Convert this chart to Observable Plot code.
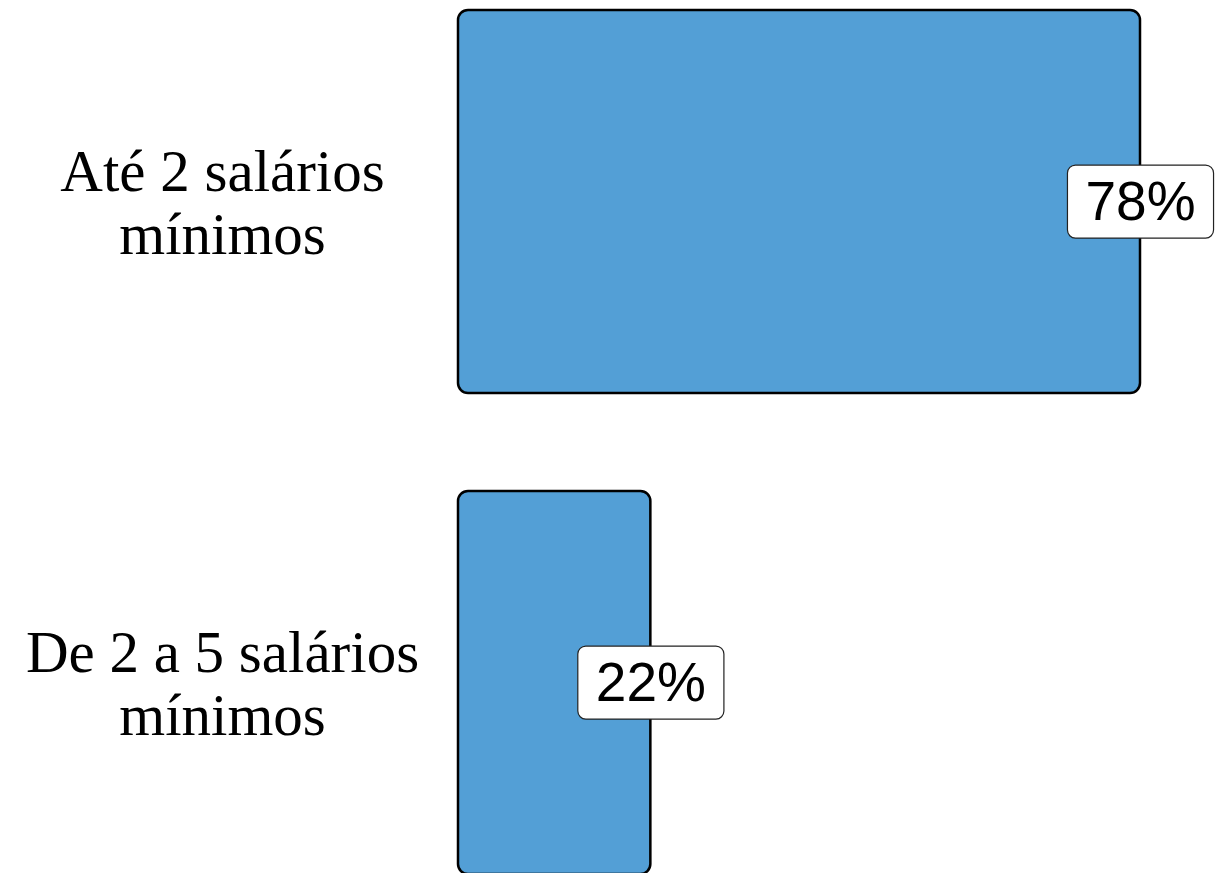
<!DOCTYPE html>
<html><head><meta charset="utf-8">
<script src="https://cdn.jsdelivr.net/npm/d3@7"></script>
<script src="https://cdn.jsdelivr.net/npm/@observablehq/plot@0.6"></script>
<style>body{margin:0;background:#fff;overflow:hidden}</style>
</head><body><div id="chart"></div>
<script>
const categories = ["Até 2 salários\nmínimos", "De 2 a 5 salários\nmínimos"];
const values = [78, 22];
const labels = ["78%", "22%"];
const data = categories.map((c, i) => ({category: c, value: values[i], label: labels[i]}));

const chart = Plot.plot({
  width: 1228, height: 873,
  marginLeft: 458, marginRight: 88, marginTop: 9, marginBottom: 0,
  style: {overflow: "visible", background: "#fff"},
  x: {domain: [0, d3.max(values)], axis: null},
  y: {domain: categories, range: [9, 875], paddingInner: 0.2033, paddingOuter: 0, axis: null},
  marks: [
    Plot.barX(data, {x: "value", y: "category", fill: "#539FD6", stroke: "#000", strokeWidth: 2.5, rx: 10}),
    Plot.text(data, {y: "category", text: "category", frameAnchor: "left", dx: -236, textAnchor: "middle",
      lineAnchor: "middle", fontSize: 59, lineHeight: 1.07,
      fontFamily: "'Liberation Serif', 'Times New Roman', serif", fill: "#000"}),
    Plot.text(data, {x: "value", y: "category", text: "label", fontSize: 55,
      fontFamily: "'Liberation Sans', Arial, sans-serif", fill: "#000"})
  ]
});
document.getElementById("chart").appendChild(chart);

// white rounded boxes behind the value labels
const groups = chart.querySelectorAll('g[aria-label="text"]');
const lg = groups[groups.length - 1];
lg.querySelectorAll("text").forEach(t => {
  const bb = t.getBBox();
  const cy = bb.y + bb.height / 2 + 1;
  const rect = document.createElementNS("http://www.w3.org/2000/svg", "rect");
  rect.setAttribute("x", bb.x - 18);
  rect.setAttribute("width", bb.width + 36);
  rect.setAttribute("y", cy - 36.5);
  rect.setAttribute("height", 73);
  rect.setAttribute("rx", 8);
  rect.setAttribute("fill", "#fff");
  rect.setAttribute("stroke", "#222");
  rect.setAttribute("stroke-width", 1.2);
  if (t.getAttribute("transform")) rect.setAttribute("transform", t.getAttribute("transform"));
  lg.insertBefore(rect, t);
});
</script>
</body></html>
